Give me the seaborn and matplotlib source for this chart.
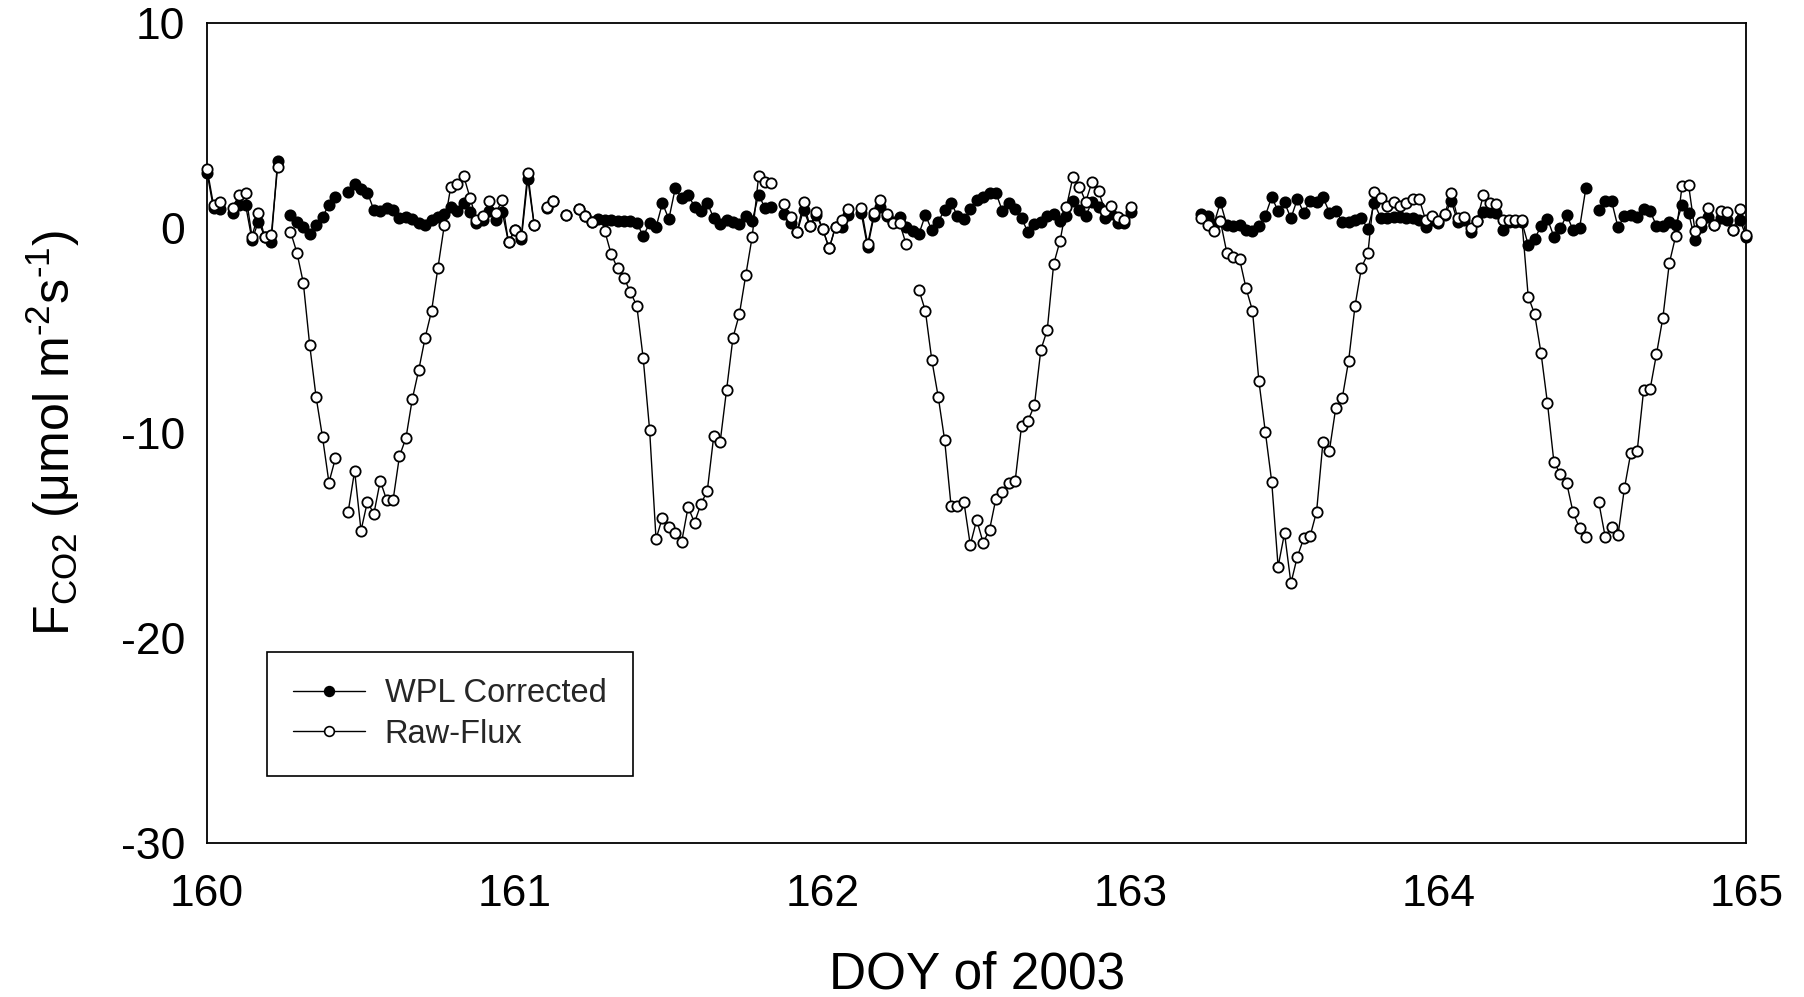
import numpy as np
import pandas as pd
import seaborn as sns
import matplotlib.pyplot as plt
from matplotlib.lines import Line2D

nan = np.nan

# half-hourly CO2 flux, one list per day (DOY 160..164)
raw_160 = [2.88, 1.12, 1.27, nan, 0.99, 1.61, 1.69, -0.42, 0.72, -0.46,
           -0.34, 2.99, nan, -0.18, -1.20, -2.67, -5.72, -8.26, -10.21, -12.42,
           -11.24, nan, -13.84, -11.85, -14.76, -13.35, -13.95, -12.34, -13.27, -13.27,
           -11.12, -10.26, -8.34, -6.93, -5.35, -4.05, -1.93, 0.16, 2.02, 2.15,
           2.54, 1.47, 0.40, 0.56, 1.29, 0.72, 1.34, -0.71]
raw_161 = [-0.09, -0.39, 2.70, 0.15, nan, 1.04, 1.29, nan, 0.64, nan,
           0.91, 0.60, 0.31, nan, -0.14, -1.27, -1.97, -2.42, -3.14, -3.79,
           -6.36, -9.85, -15.17, -14.13, -14.60, -14.86, -15.30, -13.62, -14.37, -13.48,
           -12.81, -10.15, -10.44, -7.90, -5.35, -4.20, -2.29, -0.42, 2.54, 2.26,
           2.21, nan, 1.16, 0.51, -0.22, 1.25, 0.10, 0.76]
raw_162 = [-0.06, -1.00, 0.07, 0.40, 0.94, nan, 0.97, -0.79, 0.72, 1.37,
           0.68, 0.23, 0.23, -0.80, nan, -3.02, -4.05, -6.44, -8.23, -10.34,
           -13.54, -13.54, -13.35, -15.46, -14.24, -15.35, -14.73, -13.20, -12.90, -12.45,
           -12.34, -9.64, -9.40, -8.66, -5.95, -4.98, -1.77, -0.63, 1.04, 2.47,
           2.02, 1.28, 2.26, 1.80, 0.83, 1.07, 0.52, 0.39]
raw_163 = [1.04, nan, nan, nan, nan, nan, nan, nan, nan, nan,
           nan, 0.47, 0.15, -0.15, 0.34, -1.20, -1.40, -1.53, -2.94, -4.03,
           -7.45, -9.93, -12.37, -16.52, -14.89, -17.33, -16.03, -15.14, -15.02, -13.84,
           -10.42, -10.86, -8.76, -8.31, -6.47, -3.79, -1.93, -1.24, 1.77, 1.45,
           1.07, 1.28, 1.07, 1.20, 1.41, 1.41, 0.39, 0.59]
raw_164 = [0.34, 0.68, 1.72, 0.47, 0.55, 0.02, 0.34, 1.61, 1.24, 1.15,
           0.39, 0.39, 0.39, 0.39, -3.35, -4.20, -6.11, -8.55, -11.40, -12.00,
           -12.45, -13.88, -14.65, -15.09, nan, -13.38, -15.06, -14.57, -14.99, -12.70,
           -10.96, -10.86, -7.90, -7.87, -6.15, -4.37, -1.72, -0.39, 2.07, 2.10,
           -0.13, 0.31, 0.96, 0.15, 0.83, 0.80, -0.10, 0.93, -0.34]

wpl_160 = [2.67, 0.96, 0.93, nan, 0.72, 1.12, 1.12, -0.58, 0.31, -0.42,
           -0.67, 3.28, nan, 0.63, 0.31, 0.03, -0.29, 0.15, 0.55, 1.12,
           1.50, nan, 1.77, 2.15, 1.89, 1.72, 0.88, 0.85, 0.96, 0.88,
           0.47, 0.52, 0.42, 0.23, 0.15, 0.39, 0.54, 0.70, 1.00, 0.84,
           1.21, 0.80, 0.25, 0.37, 0.84, 0.37, 0.80, -0.69]
wpl_161 = [-0.09, -0.56, 2.40, 0.15, nan, 0.95, 1.29, nan, 0.64, nan,
           0.91, 0.60, 0.31, 0.43, 0.40, 0.38, 0.36, 0.36, 0.33, 0.25,
           -0.39, 0.22, 0.04, 1.21, 0.43, 1.94, 1.46, 1.62, 1.04, 0.85,
           1.21, 0.48, 0.21, 0.37, 0.27, 0.21, 0.56, 0.34, 1.63, 0.96,
           1.00, nan, 0.70, 0.25, -0.22, 0.88, 0.10, 0.62]
wpl_162 = [-0.06, -1.00, 0.07, 0.04, 0.62, nan, 0.72, -0.95, 0.60, 1.04,
           0.60, 0.30, 0.52, 0.03, -0.15, -0.29, 0.63, -0.10, 0.31, 0.88,
           1.24, 0.59, 0.42, 0.91, 1.37, 1.53, 1.69, 1.72, 0.83, 1.24,
           0.91, 0.47, -0.21, 0.20, 0.31, 0.59, 0.68, 0.36, 0.59, 1.33,
           0.88, 0.59, 1.28, 1.04, 0.50, 0.68, 0.26, 0.23]
wpl_163 = [0.80, nan, nan, nan, nan, nan, nan, nan, nan, nan,
           nan, 0.68, 0.59, 0.20, 1.25, 0.15, 0.10, 0.15, -0.10, -0.13,
           0.10, 0.59, 1.50, 0.83, 1.25, 0.47, 1.41, 0.75, 1.31, 1.28,
           1.50, 0.75, 0.83, 0.31, 0.31, 0.39, 0.47, -0.05, 1.20, 0.50,
           0.50, 0.55, 0.55, 0.47, 0.47, 0.39, 0.03, 0.39]
wpl_164 = [0.23, 0.63, 1.31, 0.31, 0.39, -0.18, 0.34, 0.80, 0.80, 0.72,
           -0.10, 0.31, 0.30, 0.30, -0.83, -0.55, 0.10, 0.44, -0.42, -0.02,
           0.63, -0.10, -0.02, 1.97, nan, 0.88, 1.33, 1.31, 0.03, 0.59,
           0.63, 0.55, 0.91, 0.83, 0.10, 0.10, 0.31, 0.15, 1.12, 0.75,
           -0.59, 0.07, 0.55, 0.15, 0.47, 0.39, -0.10, 0.39, -0.42]

x_ticks = [160, 161, 162, 163, 164, 165]
y_ticks = [-30, -20, -10, 0, 10]


def make_df(vals):
    vals = np.array(vals, dtype=float)
    doy = 160 + np.arange(len(vals)) / 48.0   # half-hour time stamps
    seg = np.cumsum(np.isnan(vals))            # break the line at gaps
    df = pd.DataFrame({'doy': doy, 'flux': vals, 'seg': seg})
    return df.dropna()


raw = make_df(raw_160 + raw_161 + raw_162 + raw_163 + raw_164)
wpl = make_df(wpl_160 + wpl_161 + wpl_162 + wpl_163 + wpl_164)

sns.set_theme(style='white')
plt.rcParams['font.family'] = ['Liberation Sans', 'DejaVu Sans']
plt.rcParams['mathtext.fontset'] = 'custom'
plt.rcParams['mathtext.rm'] = 'Liberation Sans'
plt.rcParams['mathtext.it'] = 'Liberation Sans:italic'
plt.rcParams['axes.unicode_minus'] = False

fig = plt.figure(figsize=(18.04, 9.97), dpi=100)
ax = fig.add_axes([0.1148, 0.1545, 0.8532, 0.8225])

line_kw = dict(units='seg', estimator=None, sort=False, color='black', lw=1.0,
               marker='o', markersize=7.4, markeredgecolor='black',
               markeredgewidth=1.3, legend=False, ax=ax, clip_on=False)
sns.lineplot(data=wpl, x='doy', y='flux', markerfacecolor='black', zorder=3, **line_kw)
sns.lineplot(data=raw, x='doy', y='flux', markerfacecolor='white', zorder=4, **line_kw)

ax.set_xlim(160, 165)
ax.set_ylim(-30, 10)
ax.set_xticks(x_ticks)
ax.set_yticks(y_ticks)
ax.tick_params(direction='in', length=13, width=1.3, labelsize=32, colors='black')
ax.tick_params(axis='x', pad=22)
ax.tick_params(axis='y', pad=16)
for s in ax.spines.values():
    s.set_visible(True)
    s.set_color('black')
    s.set_linewidth(1.3)

ax.set_xlabel('DOY of 2003', fontsize=37, labelpad=26, color='black')
ax.set_ylabel(r'F$_{\mathrm{CO2}}$ (μmol m$^{\mathrm{‐2}}$s$^{\mathrm{‐1}}$)',
              fontsize=36, labelpad=28, color='black')

handles = [
    Line2D([], [], color='black', lw=1.0, marker='o', markersize=7,
           markerfacecolor='black', markeredgecolor='black', markeredgewidth=1.2),
    Line2D([], [], color='black', lw=1.0, marker='o', markersize=7,
           markerfacecolor='white', markeredgecolor='black', markeredgewidth=1.2),
]
leg = ax.legend(handles, ['WPL Corrected', 'Raw-Flux'], loc='upper left',
                bbox_to_anchor=(0.039, 0.233), fontsize=23.5, frameon=True,
                fancybox=False, edgecolor='black', framealpha=1,
                handlelength=2.2, handletextpad=0.6, borderpad=0.8,
                labelspacing=0.3, borderaxespad=0)
leg.get_frame().set_linewidth(1.2)

fig.savefig('out.png', dpi=100)
